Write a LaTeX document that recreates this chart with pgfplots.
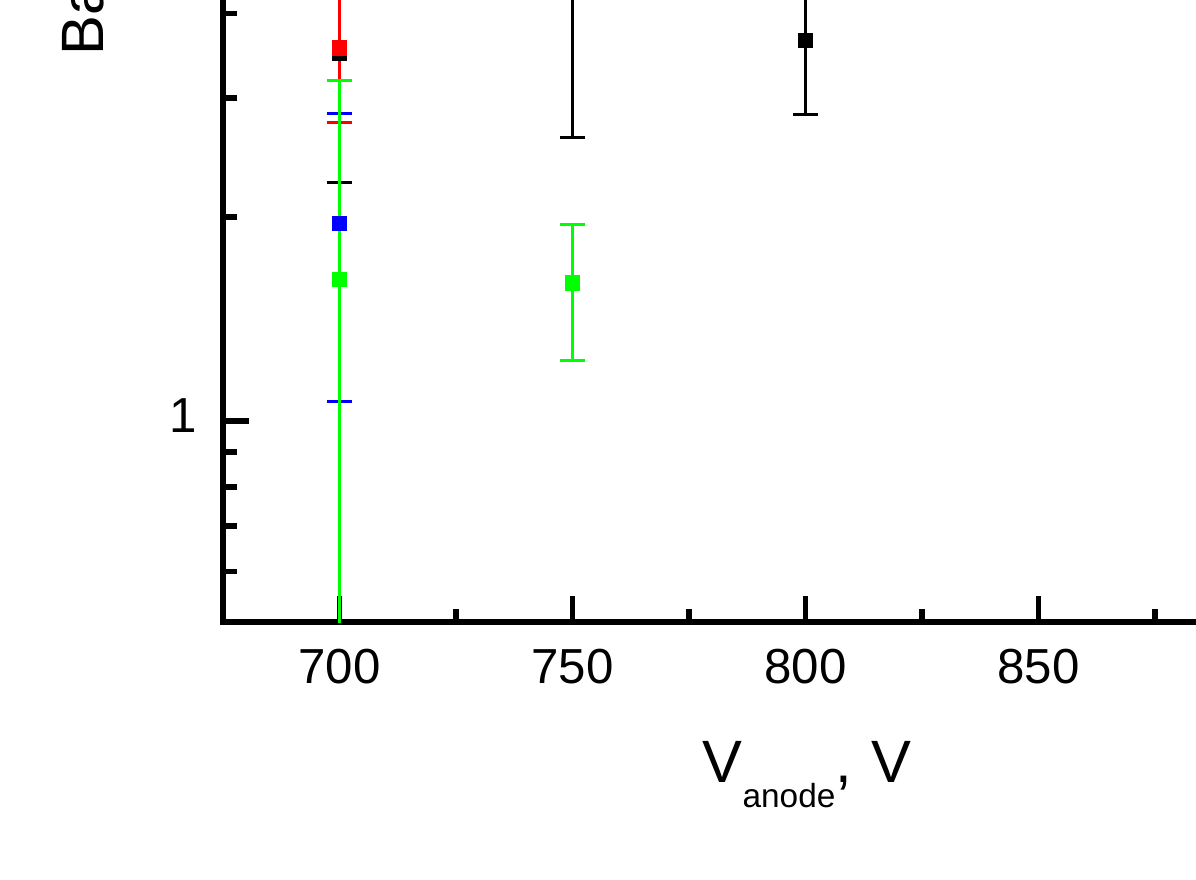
\documentclass[border=0pt]{standalone}
\usepackage{pgfplots}
\pgfplotsset{compat=1.18}
\usepackage{fontspec}
\setmainfont{Liberation Sans}
\definecolor{ptred}{RGB}{255,0,0}
\definecolor{ptgreen}{RGB}{0,255,0}
\definecolor{ptblue}{RGB}{0,0,255}

% one style per series: square marks with vertical error bars
\pgfplotsset{
  errpt/.style={only marks, mark=square*, mark size=0.72mm, color=#1,
    mark options={line width=0.2pt, fill=#1, draw=#1},
    error bars/.cd, y dir=both, y explicit,
    error bar style={line width=0.8pt, color=#1},
    error mark options={rotate=90, mark size=1.25mm, line width=0.9pt, color=#1}},
}

\begin{document}
\begin{tikzpicture}
\begin{axis}[
  at={(0,0)}, anchor=south west,
  scale only axis, width=11.65cm, height=8.81cm,
  xmin=675, xmax=925,
  ymode=log, ymin=0.505, ymax=10.1,
  xtick={700,750,800,850},
  minor xtick={725,775,825,875},
  ytick={1}, yticklabels={1},
  minor ytick={0.6,0.7,0.8,0.9,2,3,4,5,6,7,8,9},
  xtick pos=left, ytick pos=left,
  tick align=inside,
  major tick length=2.6mm, minor tick length=1.35mm,
  every tick/.append style={line width=1.6pt, black},
  axis line style={line width=1.7pt},
  /pgf/number format/assume math mode=true,
  /pgf/number format/set thousands separator={},
  tick label style={font=\fontsize{14}{16}\selectfont},
  xticklabel style={yshift=-1.5mm},
  yticklabel style={xshift=-1.4mm, yshift=0.6mm},
  xlabel={V\raisebox{-2.5mm}{\fontsize{9.5}{11}\selectfont anode},\hspace{0.05em} V},
  xlabel style={at={(axis description cs:0.4112,-0.1827)}, anchor=base west,
    inner sep=0pt, font=\fontsize{17}{20}\selectfont},
  ylabel={Background rate, Hz},
  ylabel style={at={(axis description cs:-0.1030,0.6425)}, anchor=base west,
    inner sep=0pt, font=\fontsize{17}{20}\selectfont},
]
\addplot[errpt=black] coordinates {
  (700,3.49) +- (0,1.24)
  (750,5.00) +- (0,2.38)
  (800,3.65) +- (0,0.81)
};
\addplot[errpt=ptred] coordinates {
  (700,3.56) +- (0,0.80)
};
\addplot[errpt=ptblue] coordinates {
  (700,1.96) +- (0,0.89)
};
\addplot[errpt=ptgreen] coordinates {
  (700,1.62) +- (0,1.56)
  (750,1.60) += (0,0.35) -= (0,0.37)
};
\end{axis}
\pgfresetboundingbox
\path[use as bounding box] (-2.23,-2.57) rectangle (9.73,6.22);
\end{tikzpicture}
\end{document}
